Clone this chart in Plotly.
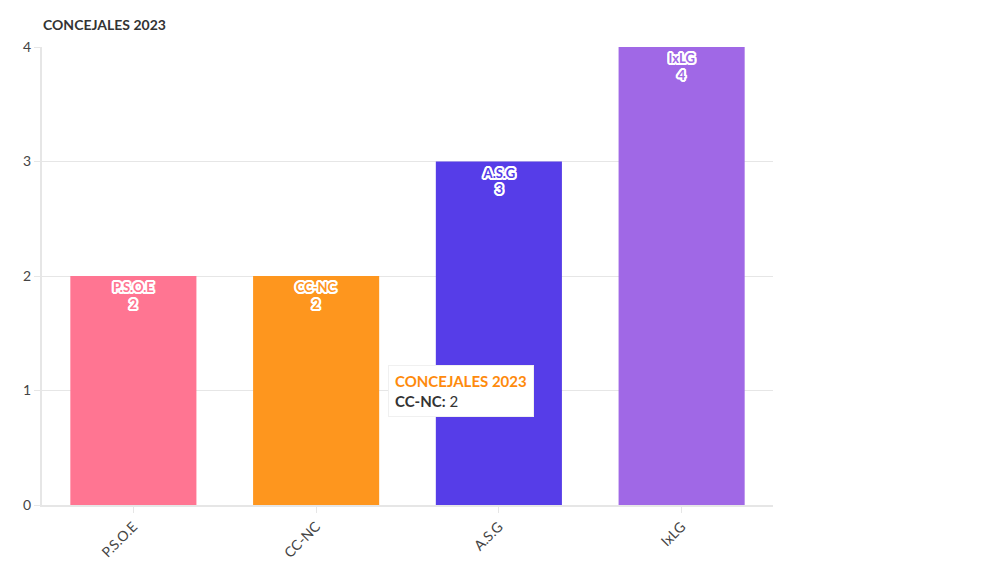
import plotly.graph_objects as go

# datos de concejales 2023
partidos = ['P.S.O.E', 'CC-NC', 'A.S.G', 'IxLG']
concejales = [2, 2, 3, 4]
colores = ['#ff7592', '#fe961e', '#563de8', '#a068e6']

FONT = 'Lato'
stroke = ', '.join(f'{dx}px {dy}px 0 white' for dx in (-2, -1, 0, 1, 2) for dy in (-2, -1, 0, 1, 2)
                   if (dx or dy) and abs(dx) + abs(dy) <= 3)

fig = go.Figure()
fig.add_trace(go.Bar(
    x=partidos, y=concejales,
    marker=dict(color=colores, line=dict(width=0)),
    text=[f'{p}<br>{v}' for p, v in zip(partidos, concejales)],
    textposition='inside', insidetextanchor='end',
    textfont=dict(family=FONT, size=13, color=colores, weight='bold', shadow=stroke),
    textangle=0,
    hoverinfo='skip',
))

# tooltip fijo como en la captura
fig.add_annotation(
    x='CC-NC', y=1, xref='x', yref='y',
    xanchor='left', yanchor='middle', xshift=72, showarrow=False,
    align='left',
    text=("<span style='color:#fe8a0c'><b>CONCEJALES 2023</b></span><br>"
          "<b>CC-NC:</b> 2"),
    font=dict(family=FONT, size=15, color='#333333'),
    bgcolor='white', bordercolor='#f0f0f0', borderwidth=1, borderpad=6,
)

# la página añade 8px de margen, se compensa aquí
fig.update_layout(
    width=1000, height=575,
    margin=dict(l=34, r=235, t=39, b=78),
    plot_bgcolor='white', paper_bgcolor='white',
    bargap=0.31, showlegend=False,
    font=dict(family=FONT, color='#444444', size=14),
    title=dict(text='<b>CONCEJALES 2023</b>', x=0.035, xanchor='left',
               y=0.97, yanchor='middle', font=dict(family=FONT, size=14, color='#333333')),
)
fig.update_xaxes(tickangle=-45, showline=True, linecolor='#e6e6e6', linewidth=2,
                 ticks='outside', tickcolor='#e6e6e6', ticklen=6, showgrid=False,
                 tickfont=dict(size=14, color='#444444'))
fig.update_yaxes(range=[0, 4], dtick=1, showgrid=True, gridcolor='#e6e6e6',
                 showline=True, linecolor='#e6e6e6', linewidth=2, zeroline=False,
                 ticks='outside', tickcolor='#e6e6e6', ticklen=6,
                 tickfont=dict(size=14, color='#444444'))

fig.write_html("out.html")
